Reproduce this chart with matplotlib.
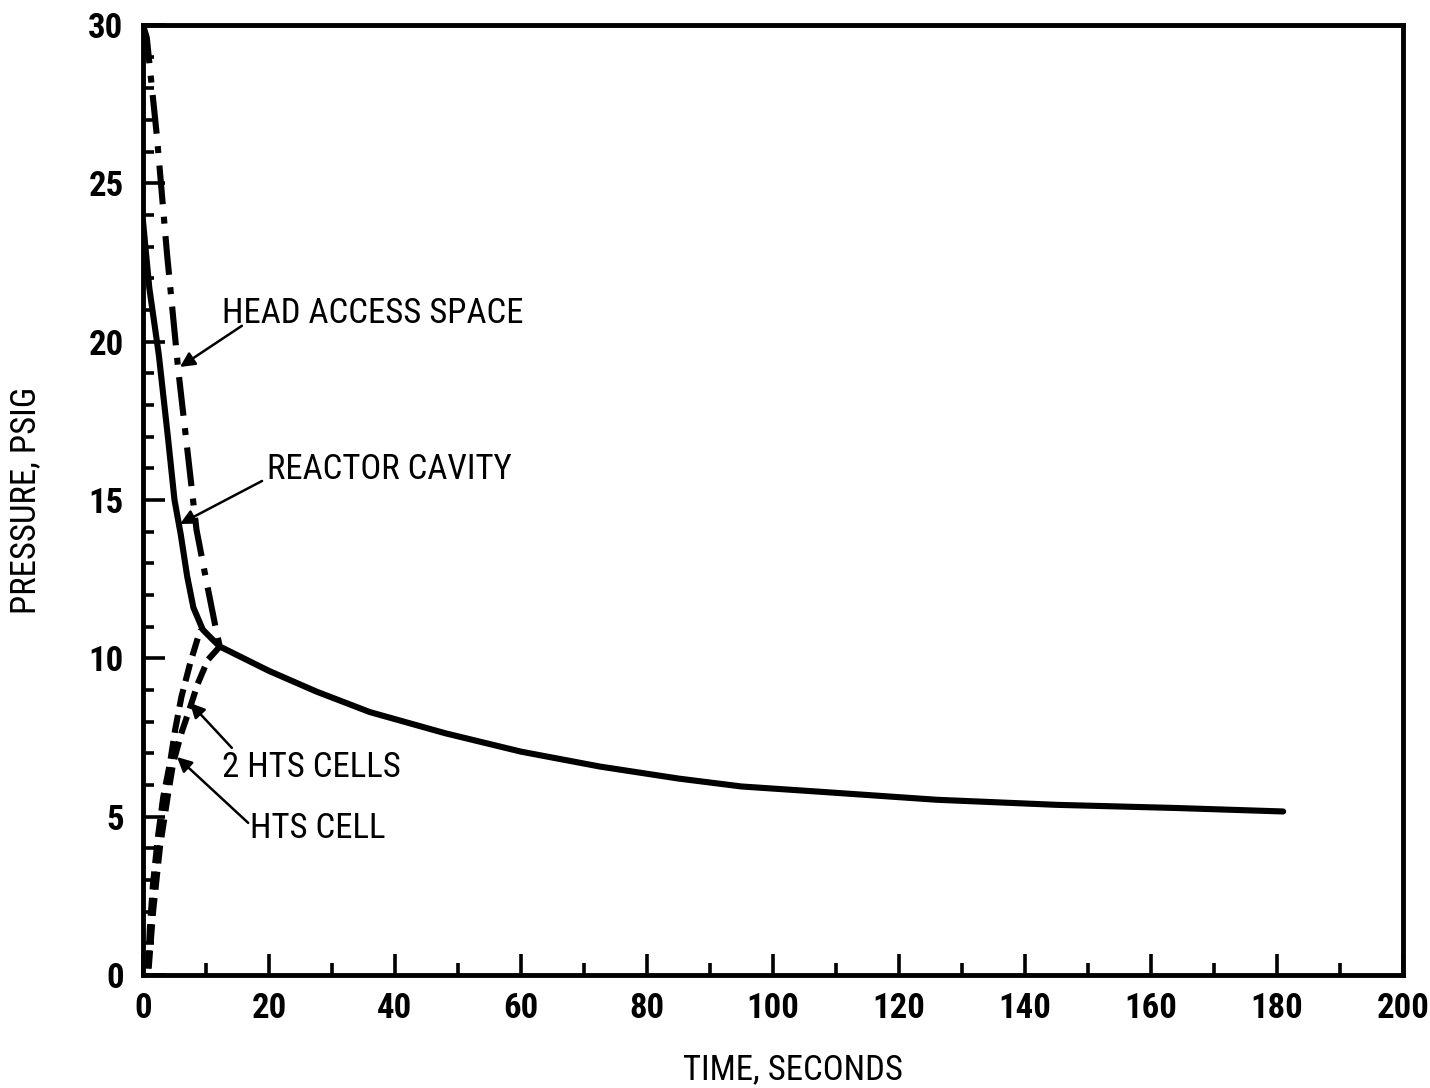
import matplotlib
matplotlib.use("Agg")
import matplotlib.pyplot as plt
from matplotlib.ticker import MultipleLocator

plt.rcParams['font.family'] = ['Roboto Condensed', 'Open Sans Condensed', 'Liberation Sans Narrow',
                               'DejaVu Sans']
plt.rcParams['font.stretch'] = 'condensed'
plt.rcParams['lines.scale_dashes'] = False

# curves (time in s, pressure in psig)
main_t = [12.2, 20, 27.5, 36, 48, 60, 72.5, 85, 95, 107, 126, 145, 164, 181]
main_p = [10.37, 9.6, 8.95, 8.3, 7.63, 7.05, 6.58, 6.2, 5.95, 5.79, 5.53, 5.37, 5.27, 5.16]

cavity_t = [0, 1, 2.5, 4, 5, 6, 7, 8, 9.5, 11, 12.2]
cavity_p = [23.8, 21.7, 19.6, 16.9, 15.0, 13.9, 12.6, 11.6, 10.9, 10.6, 10.37]

head_t = [0, 0.6, 2.2, 3.8, 5.6, 8.0, 8.5, 10.1, 11.7, 12.2]
head_p = [30, 29.6, 26.5, 22.8, 19.1, 14.9, 14.05, 12.4, 10.8, 10.37]

cell1_t = [0.8, 1.1, 1.6, 2.4, 3.2, 4.3, 5.1, 6.1, 7.5, 8.7, 9.2]
cell1_p = [0.2, 1.5, 2.9, 4.4, 5.6, 6.7, 7.74, 8.78, 9.85, 10.64, 10.9]

cell2_t = [0.9, 1.6, 2.7, 4.0, 4.8, 6.1, 7.5, 8.7, 10.3, 12.2]
cell2_p = [0.2, 2.0, 4.05, 5.74, 6.7, 7.64, 8.46, 9.2, 9.95, 10.37]

x_ticks = list(range(0, 201, 20))
y_ticks = [0, 5, 10, 15, 20, 25, 30]

fig = plt.figure(figsize=(14.3, 10.88), dpi=100)
ax = fig.add_axes([0.100, 0.104, 0.881, 0.873])

lw = 4.4
ax.plot(main_t, main_p, color='black', lw=lw, solid_capstyle='round')
ax.plot(cavity_t, cavity_p, color='black', lw=lw, solid_capstyle='round')
ax.plot(head_t, head_p, color='black', lw=lw, dashes=(28, 9, 5, 9))
ax.plot(cell1_t, cell1_p, color='black', lw=lw, dashes=(13, 6))
ax.plot(cell2_t, cell2_p, color='black', lw=lw, dashes=(13, 6))

ax.set_xlim(0, 200)
ax.set_ylim(0, 30)
ax.set_xticks(x_ticks)
ax.set_yticks(y_ticks)
ax.xaxis.set_minor_locator(MultipleLocator(10))
ax.yaxis.set_minor_locator(MultipleLocator(1))

for s in ax.spines.values():
    s.set_linewidth(3.5)

ax.tick_params(which='both', direction='in', top=False, right=False, width=2.6)
ax.tick_params(axis='x', which='major', length=15, pad=12, labelsize=25)
ax.tick_params(axis='x', which='minor', length=9)
ax.tick_params(axis='y', which='major', length=16, pad=14, labelsize=25)
ax.tick_params(axis='y', which='minor', length=8)
for lab in ax.get_xticklabels() + ax.get_yticklabels():
    lab.set_fontweight('bold')

ax.set_xlabel('TIME, SECONDS', fontsize=25)
ax.set_ylabel('PRESSURE, PSIG', fontsize=25)
ax.xaxis.set_label_coords(0.516, -0.083)
ax.yaxis.set_label_coords(-0.080, 0.5)

arrow = dict(arrowstyle='-|>', color='black', lw=1.8, mutation_scale=22, shrinkA=0, shrinkB=0)
txt = dict(fontsize=25, va='center', ha='left')

ax.text(12.5, 20.9, 'HEAD ACCESS SPACE', **txt)
ax.annotate('', xy=(5.87, 19.2), xytext=(15.7, 20.5), arrowprops=arrow)

ax.text(19.7, 15.95, 'REACTOR CAVITY', **txt)
ax.annotate('', xy=(5.87, 14.24), xytext=(18.9, 15.6), arrowprops=arrow)

ax.text(12.5, 6.54, '2 HTS CELLS', **txt)
ax.annotate('', xy=(7.46, 8.59), xytext=(14.1, 7.17), arrowprops=arrow)

ax.text(17.0, 4.61, 'HTS CELL', **txt)
ax.annotate('', xy=(5.4, 6.88), xytext=(16.7, 4.8), arrowprops=arrow)

fig.savefig('out.png', dpi=100)
